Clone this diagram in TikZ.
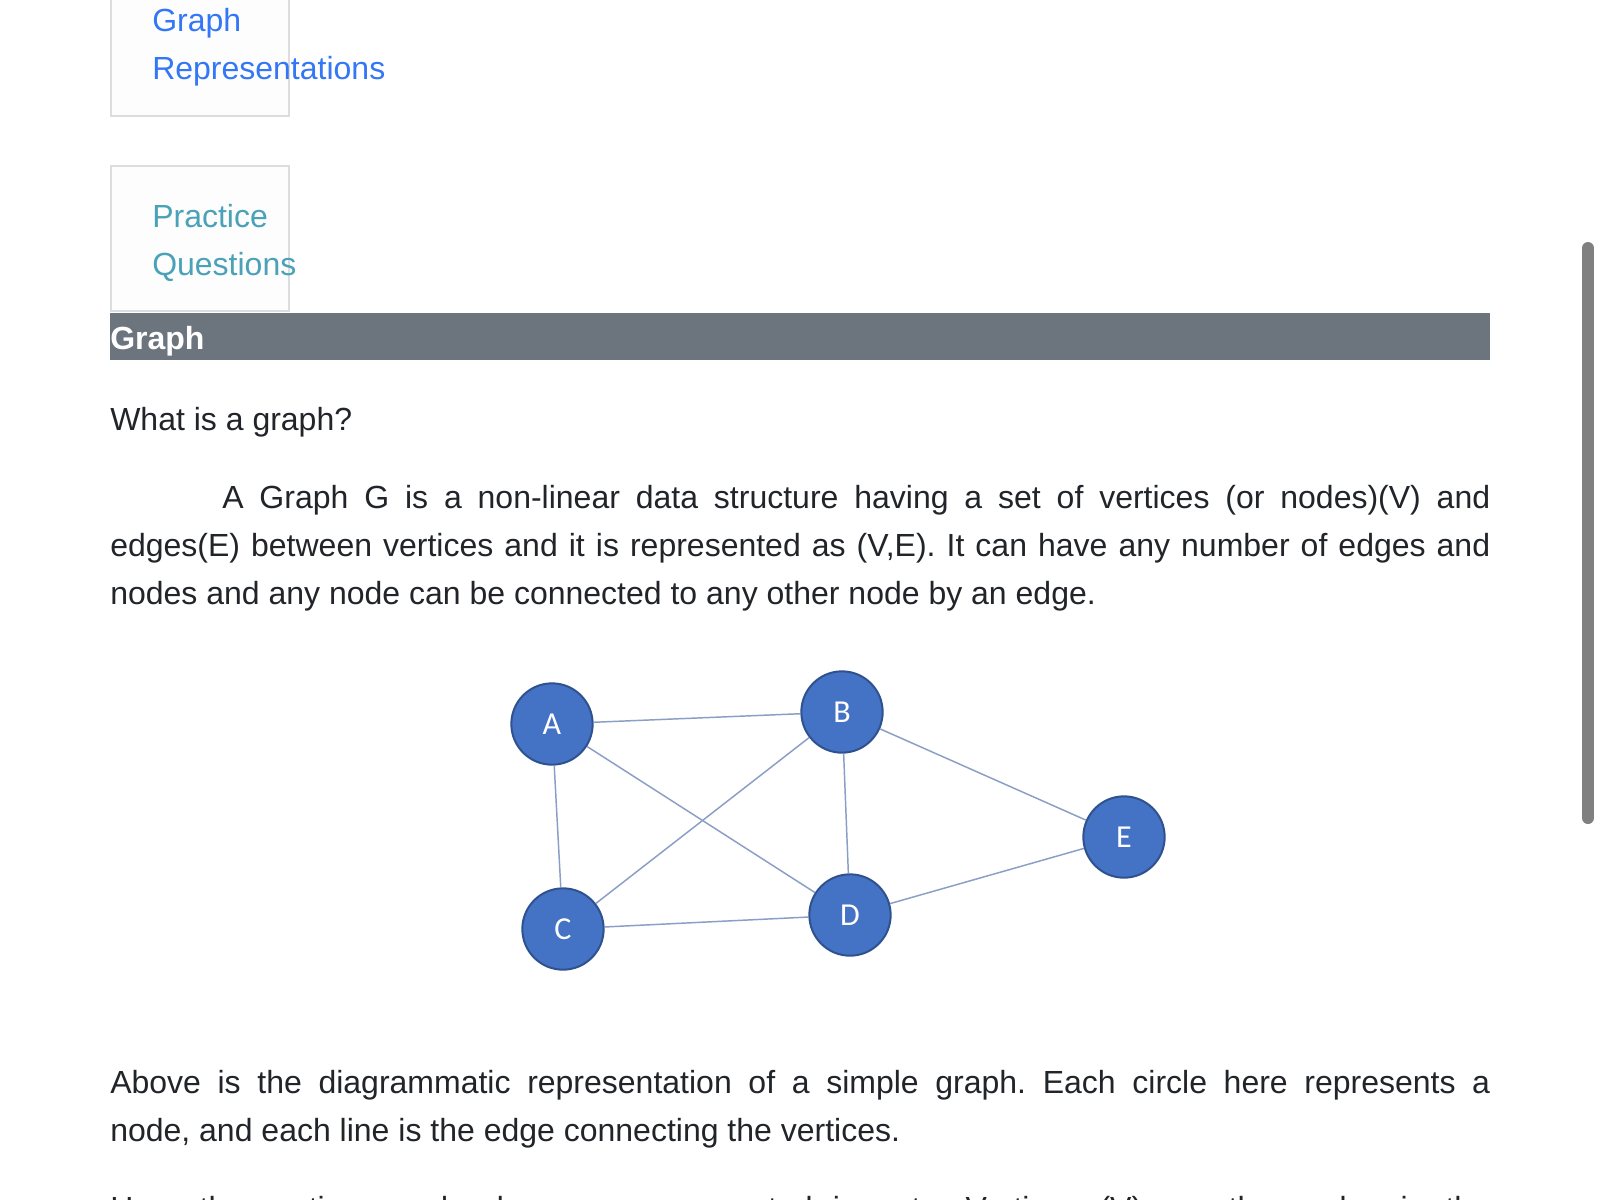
\documentclass[tikz,border=0pt]{standalone}
\usepackage{fontspec}
\setmainfont{Liberation Sans}
\newfontfamily\vertexfont{Carlito}
\usepackage{xcolor}
\frenchspacing
\definecolor{pagetext}{RGB}{33,37,41}
\definecolor{navblue}{RGB}{51,119,246}
\definecolor{navteal}{RGB}{74,162,184}
\definecolor{navborder}{RGB}{221,221,221}
\definecolor{navfill}{RGB}{253,253,253}
\definecolor{bargray}{RGB}{108,117,125}
\definecolor{vertexblue}{RGB}{68,114,196}
\definecolor{vertexrim}{RGB}{47,82,143}
\definecolor{edgeblue}{RGB}{138,158,198}
\definecolor{scrollgray}{RGB}{128,128,128}

\begin{document}
\begin{tikzpicture}[x=0.75pt,y=-0.75pt,
  body/.style={anchor=base west,inner sep=0pt,text=pagetext,
    font=\fontsize{24}{36}\selectfont},
  navlink/.style={anchor=base west,inner sep=0pt,
    font=\fontsize{24}{36}\selectfont},
  navbox/.style={draw=navborder,fill=navfill,line width=1.5pt},
  vertex/.style={circle,draw=vertexrim,line width=1.5pt,fill=vertexblue,
    minimum size=61pt,inner sep=0pt,text=white,
    font=\vertexfont\fontsize{24}{24}\selectfont},
  link/.style={edgeblue,line width=1.1pt}]
\useasboundingbox (0,0) rectangle (1600,1200);
\fill[white] (0,0) rectangle (1600,1200);

% Side navigation
\draw[navbox] (111,-10) rectangle (289,115.5);
\draw[navbox] (111,166) rectangle (289,311);
\node[navlink,text=navblue] (navgraph) at (152,31) {Graph};
\node[navlink,text=navblue] (navrepr) at (152,79) {Representations};
\node[navlink,text=navteal] (navpractice) at (152,227) {Practice};
\node[navlink,text=navteal] (navquestions) at (152,275) {Questions};

% Title bar
\fill[bargray] (110,313) rectangle (1490,360);
\node[body,text=white,font=\bfseries\fontsize{24}{36}\selectfont]
  (title) at (110,349) {Graph};

% Text above the graph
\node[body] (question) at (110,430) {What is a graph?};
\node[body] (defa) at (222,508.5)
  {\makebox[951pt][s]{A Graph G is a non-linear data structure having a set of vertices (or nodes)(V) and}};
\node[body] (defb) at (110,556.5)
  {\makebox[1035pt][s]{edges(E) between vertices and it is represented as (V,E). It can have any number of edges and}};
\node[body] (defc) at (110,604.5)
  {nodes and any node can be connected to any other node by an edge.};

% Vertices
\node[vertex] (A) at (552,724) {A};
\node[vertex] (B) at (842,712) {B};
\node[vertex] (C) at (563,929) {C};
\node[vertex] (D) at (850,915) {D};
\node[vertex] (E) at (1124,837) {E};

% Edges
\foreach \u/\v in {A/B,A/C,A/D,B/C,B/D,B/E,C/D,D/E}{
  \draw[link] (\u) -- (\v);
}

% Text below the graph
\node[body] (notea) at (110,1093)
  {\makebox[1035pt][s]{Above is the diagrammatic representation of a simple graph. Each circle here represents a}};
\node[body] (noteb) at (110,1141)
  {node, and each line is the edge connecting the vertices.};
\node[body] (notec) at (110,1219)
  {\makebox[1035pt][s]{Here the vertices and edges are represented in sets: Vertices (V) are the nodes in the}};

% Scrollbar
\draw[scrollgray,line width=9pt,line cap=round] (1588,248) -- (1588,818);
\end{tikzpicture}
\end{document}
